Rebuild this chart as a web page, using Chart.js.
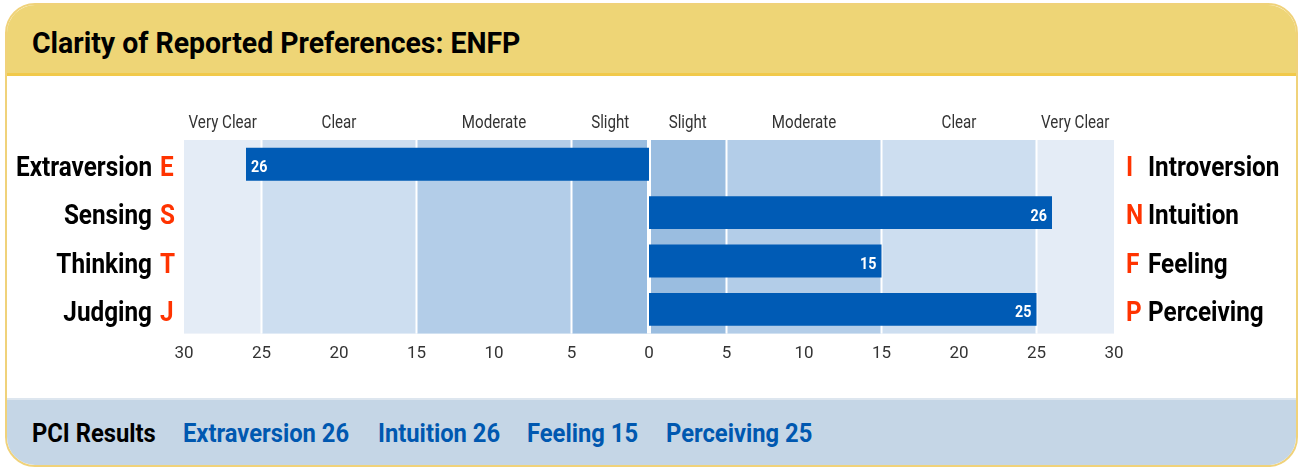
<!DOCTYPE html>
<html>
<head>
<meta charset="utf-8">
<script src="https://cdn.jsdelivr.net/npm/chart.js@4/dist/chart.umd.min.js"></script>
<style>
  html, body { margin: 0; padding: 0; background: #fff; }
  body { width: 1300px; height: 468px; position: relative; overflow: hidden; font-family: Roboto, sans-serif; }
  .card { position: absolute; left: 5px; top: 3px; width: 1289px; height: 460px;
          border: 2px solid #f0d27a; border-radius: 30px; overflow: hidden; background: #fff; }
  .head { position: absolute; left: 0; top: 0; right: 0; height: 68px; background: #eed576;
          border-bottom: 3px solid #f1c94a; }
  .head h1 { margin: 0; position: absolute; left: 25px; top: 20px; font-size: 29px; font-weight: bold;
             color: #000; line-height: 36px; white-space: nowrap;
             transform: scaleX(0.98); transform-origin: 0 50%; }
  .foot { position: absolute; left: 0; right: 0; bottom: 0; height: 65px; background: #c5d6e6;
          border-top: 2px solid #dde6ef; }
  .foot span { position: absolute; top: 19px; font-size: 25px; font-weight: bold; color: #0058b0;
               line-height: 30px; white-space: nowrap; transform: scaleX(0.95); transform-origin: 0 50%; }
  .foot span.lead { color: #000; }
  #chart { position: absolute; left: 0; top: 75px; }
</style>
</head>
<body>
<div class="card">
  <div class="head"><h1>Clarity of Reported Preferences: ENFP</h1></div>
  <div class="foot" id="foot"></div>
</div>
<canvas id="chart" width="1300" height="323"></canvas>
<script>
// Data
const leftPoles = ['Extraversion', 'Sensing', 'Thinking', 'Judging'];
const leftLetters = ['E', 'S', 'T', 'J'];
const rightLetters = ['I', 'N', 'F', 'P'];
const rightPoles = ['Introversion', 'Intuition', 'Feeling', 'Perceiving'];
// negative = left pole, positive = right pole
const scores = [-26, 26, 15, 25];
const tickValues = [-30, -25, -20, -15, -10, -5, 0, 5, 10, 15, 20, 25, 30];
const bandEdges = [-30, -25, -15, -5, 0, 5, 15, 25, 30];
const bandLabels = ['Very Clear', 'Clear', 'Moderate', 'Slight', 'Slight', 'Moderate', 'Clear', 'Very Clear'];
const bandColors = ['#e4ecf6', '#cddef0', '#b3cde8', '#9abde0', '#9abde0', '#b3cde8', '#cddef0', '#e4ecf6'];

const FONT = 'Roboto, sans-serif';
const CAP = 0.711; // Roboto cap height / em
const BAR_BLUE = '#005bb5';
const LETTER_RED = '#ff3300';

// Footer results
const footLefts = [25, 176, 371, 520, 659];
const foot = document.getElementById('foot');
const footTexts = ['PCI Results'].concat(scores.map((v, i) =>
    (v < 0 ? leftPoles[i] : rightPoles[i]) + ' ' + Math.abs(v)));
footTexts.forEach((t, i) => {
    const s = document.createElement('span');
    s.textContent = t;
    s.style.left = footLefts[i] + 'px';
    if (i === 0) s.className = 'lead';
    foot.appendChild(s);
});

// text squeezed horizontally to mimic a condensed face, vertically centred on its caps
function squeezedText(ctx, text, x, cy, align, size, sx) {
    ctx.save();
    ctx.translate(x, cy + size * CAP / 2);
    ctx.scale(sx, 1);
    ctx.textAlign = align;
    ctx.textBaseline = 'alphabetic';
    ctx.fillText(text, 0, 0);
    ctx.restore();
}

// Background bands, band names and pole labels
const bandsPlugin = {
    id: 'bands',
    beforeDatasetsDraw(chart) {
        const { ctx, chartArea, scales } = chart;
        const x = scales.x;
        ctx.save();
        for (let i = 0; i < bandColors.length; i++) {
            const a = x.getPixelForValue(bandEdges[i]);
            const b = x.getPixelForValue(bandEdges[i + 1]);
            ctx.fillStyle = bandColors[i];
            ctx.fillRect(a, chartArea.top, b - a, chartArea.bottom - chartArea.top);
        }
        ctx.fillStyle = '#ffffff';
        bandEdges.slice(1, -1).forEach(v => {
            const p = x.getPixelForValue(v);
            const w = v === 0 ? 4 : 2;
            ctx.fillRect(p - w / 2, chartArea.top, w, chartArea.bottom - chartArea.top);
        });
        ctx.restore();
    },
    afterDraw(chart) {
        const { ctx, chartArea, scales } = chart;
        const x = scales.x, y = scales.y;
        ctx.save();
        // band names above the plot
        ctx.font = '18px ' + FONT;
        ctx.fillStyle = '#333';
        for (let i = 0; i < bandLabels.length; i++) {
            const c = (x.getPixelForValue(bandEdges[i]) + x.getPixelForValue(bandEdges[i + 1])) / 2;
            squeezedText(ctx, bandLabels[i], c, chartArea.top - 18, 'center', 18, 0.84);
        }
        // pole names
        ctx.font = 'bold 27px ' + FONT;
        for (let i = 0; i < leftPoles.length; i++) {
            const cy = y.getPixelForValue(i) + 2;
            ctx.fillStyle = '#000';
            squeezedText(ctx, leftPoles[i], chartArea.left - 32, cy, 'right', 27, 0.9);
            ctx.fillStyle = LETTER_RED;
            squeezedText(ctx, leftLetters[i], chartArea.left - 24, cy, 'left', 27, 0.9);
            squeezedText(ctx, rightLetters[i], chartArea.right + 12, cy, 'left', 27, 0.9);
            ctx.fillStyle = '#000';
            squeezedText(ctx, rightPoles[i], chartArea.right + 34, cy, 'left', 27, 0.9);
        }
        // values inside the bars
        ctx.font = 'bold 17px ' + FONT;
        ctx.fillStyle = '#fff';
        scores.forEach((v, i) => {
            const end = x.getPixelForValue(v);
            const cy = y.getPixelForValue(i) + 2;
            if (v < 0) squeezedText(ctx, String(-v), end + 5, cy, 'left', 17, 0.84);
            else squeezedText(ctx, String(v), end - 5, cy, 'right', 17, 0.84);
        });
        ctx.restore();
    }
};

new Chart(document.getElementById('chart'), {
    type: 'bar',
    data: {
        labels: leftPoles,
        datasets: [{
            data: scores,
            backgroundColor: BAR_BLUE,
            borderWidth: 0,
            categoryPercentage: 1,
            barPercentage: 0.68
        }]
    },
    options: {
        indexAxis: 'y',
        responsive: false,
        animation: false,
        layout: { padding: { left: 184, right: 186, top: 65, bottom: 24 } },
        plugins: { legend: { display: false }, tooltip: { enabled: false } },
        scales: {
            x: {
                min: -30,
                max: 30,
                afterBuildTicks: axis => { axis.ticks = tickValues.map(v => ({ value: v })); },
                ticks: {
                    callback: v => Math.abs(v),
                    color: '#333',
                    font: { family: FONT, size: 17 },
                    padding: 10,
                    maxRotation: 0,
                    autoSkip: false
                },
                grid: { display: false, drawTicks: false },
                border: { display: false }
            },
            y: { display: false }
        }
    },
    plugins: [bandsPlugin]
});
</script>
</body>
</html>
